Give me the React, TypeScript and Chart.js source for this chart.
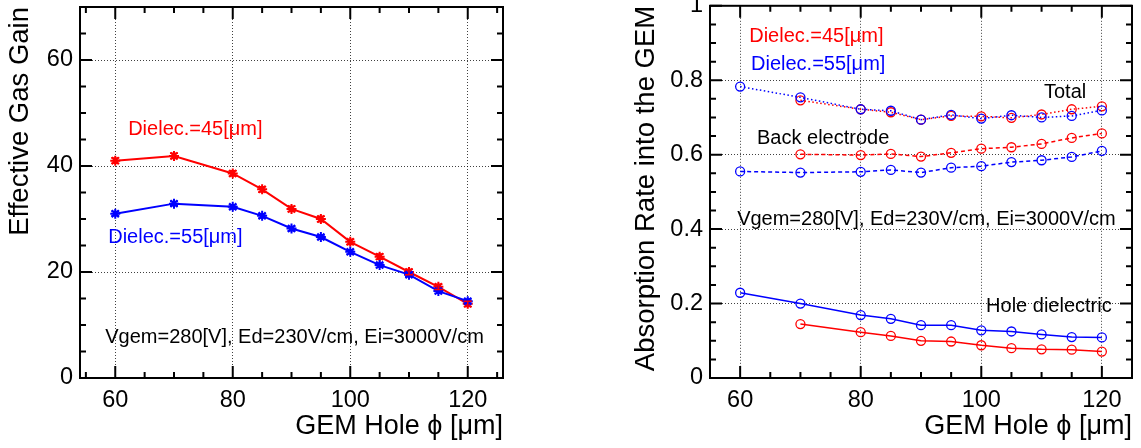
import React, { useEffect, useRef } from 'react';
import { Chart, registerables } from 'chart.js';

Chart.register(...registerables);

const FONT = '"Liberation Sans", Arial, Helvetica, sans-serif';
const RED = '#ff0000';
const BLUE = '#0000ff';

// ---------- Left panel data: effective gas gain ----------
const holeDiameters = [60, 70, 80, 85, 90, 95, 100, 105, 110, 115, 120];
const gain45 = [41.0, 41.9, 38.6, 35.6, 31.9, 30.0, 25.7, 22.9, 20.0, 17.2, 14.0];
const gain55 = [31.0, 32.9, 32.3, 30.6, 28.2, 26.6, 23.8, 21.3, 19.5, 16.4, 14.5];
const gainErr45 = [0.5, 0.5, 0.5, 0.5, 0.5, 0.5, 0.5, 0.5, 0.5, 0.5, 0.5];
const gainErr55 = [0.4, 0.4, 0.4, 0.4, 0.4, 0.4, 0.4, 0.4, 0.4, 0.4, 0.4];
const gainXTicks = [60, 80, 100, 120];
const gainYTicks = [0, 20, 40, 60];

// ---------- Right panel data: absorption rate ----------
const holeDiameters45 = [70, 80, 85, 90, 95, 100, 105, 110, 115, 120];
const holeDiameters55 = [60, 70, 80, 85, 90, 95, 100, 105, 110, 115, 120];
const total45 = [0.746, 0.722, 0.714, 0.694, 0.704, 0.703, 0.699, 0.708, 0.722, 0.730];
const total55 = [0.783, 0.754, 0.722, 0.718, 0.694, 0.707, 0.697, 0.706, 0.700, 0.704, 0.719];
const back45 = [0.601, 0.599, 0.602, 0.595, 0.605, 0.616, 0.620, 0.629, 0.645, 0.657];
const back55 = [0.555, 0.552, 0.554, 0.559, 0.552, 0.565, 0.569, 0.580, 0.585, 0.594, 0.610];
const hole45 = [0.145, 0.123, 0.113, 0.100, 0.098, 0.088, 0.080, 0.077, 0.076, 0.071];
const hole55 = [0.229, 0.200, 0.169, 0.159, 0.142, 0.142, 0.128, 0.125, 0.117, 0.110, 0.109];
const absXTicks = [60, 80, 100, 120];
const absYTicks = [0, 0.2, 0.4, 0.6, 0.8, 1];

const conditionText = 'Vgem=280[V], Ed=230V/cm, Ei=3000V/cm';

const pts = (xs: number[], ys: number[]) => xs.map((x, i) => ({ x, y: ys[i] }));

type Note = { x: number; y: number; text: string; color: string };

const rootFramePlugin = {
  id: 'rootFrame',
  afterDatasetsDraw(chart: any, _args: any, opts: any) {
    const { ctx, chartArea: a, scales } = chart;
    const xs = scales.x;
    const ys = scales.y;
    ctx.save();
    // error bars
    if (opts.errors) {
      chart.data.datasets.forEach((ds: any, di: number) => {
        const errs = opts.errors[di];
        if (!errs) return;
        ctx.strokeStyle = ds.borderColor;
        ctx.lineWidth = 1.5;
        ds.data.forEach((p: any, i: number) => {
          const e = errs[i];
          const px = xs.getPixelForValue(p.x);
          const y1 = ys.getPixelForValue(p.y - e);
          const y2 = ys.getPixelForValue(p.y + e);
          ctx.beginPath();
          ctx.moveTo(px, y1);
          ctx.lineTo(px, y2);
          ctx.moveTo(px - 4, y1);
          ctx.lineTo(px + 4, y1);
          ctx.moveTo(px - 4, y2);
          ctx.lineTo(px + 4, y2);
          ctx.stroke();
        });
      });
    }
    // inner ticks
    ctx.strokeStyle = '#000';
    ctx.lineWidth = 2;
    const isMajor = (v: number, majors: number[]) => majors.some((m) => Math.abs(m - v) < 1e-6);
    const xStart = Math.ceil(xs.min / opts.xMinor - 1e-9) * opts.xMinor;
    for (let v = xStart; v <= xs.max + 1e-9; v += opts.xMinor) {
      const px = xs.getPixelForValue(v);
      const len = isMajor(v, opts.xMajor) ? 12 : 6;
      ctx.beginPath();
      ctx.moveTo(px, a.bottom);
      ctx.lineTo(px, a.bottom - len);
      ctx.moveTo(px, a.top);
      ctx.lineTo(px, a.top + len);
      ctx.stroke();
    }
    const yStart = Math.ceil(ys.min / opts.yMinor - 1e-9) * opts.yMinor;
    for (let k = 0; yStart + k * opts.yMinor <= ys.max + 1e-9; k++) {
      const v = yStart + k * opts.yMinor;
      const py = ys.getPixelForValue(v);
      const len = isMajor(v, opts.yMajor) ? 12 : 6;
      ctx.beginPath();
      ctx.moveTo(a.left, py);
      ctx.lineTo(a.left + len, py);
      ctx.moveTo(a.right, py);
      ctx.lineTo(a.right - len, py);
      ctx.stroke();
    }
    // frame
    ctx.lineWidth = 2;
    ctx.strokeRect(a.left, a.top, a.right - a.left, a.bottom - a.top);
    // notes
    ctx.font = `20px ${FONT}`;
    ctx.textBaseline = 'middle';
    ctx.textAlign = 'left';
    (opts.notes || []).forEach((n: Note) => {
      ctx.fillStyle = n.color;
      ctx.fillText(n.text, xs.getPixelForValue(n.x), ys.getPixelForValue(n.y));
    });
    ctx.restore();
  },
};

function xAxis(min: number, max: number, majors: number[]) {
  return {
    type: 'linear',
    min,
    max,
    afterBuildTicks: (s: any) => {
      s.ticks = majors.map((v) => ({ value: v }));
    },
    afterFit: (s: any) => {
      s.height = 70;
      s.paddingLeft = 0;
      s.paddingRight = 0;
    },
    grid: { color: 'rgba(0,0,0,0.75)', lineWidth: 1, drawTicks: false },
    border: { display: false, dash: [1, 2] },
    ticks: {
      font: { size: 23.5, family: FONT },
      color: '#000',
      padding: 8,
      maxRotation: 0,
      autoSkip: false,
      callback: (v: any) => String(v),
    },
    title: {
      display: true,
      text: 'GEM Hole \u03d5 [\u03bcm]',
      align: 'end',
      color: '#000',
      font: { size: 27, family: FONT },
      padding: { top: 0, bottom: 5 },
    },
  };
}

function yAxis(min: number, max: number, majors: number[], width: number, title: string, titlePad: number) {
  return {
    type: 'linear',
    min,
    max,
    afterBuildTicks: (s: any) => {
      s.ticks = majors.map((v) => ({ value: v }));
    },
    afterFit: (s: any) => {
      s.width = width;
      s.paddingTop = 0;
      s.paddingBottom = 0;
    },
    grid: { color: 'rgba(0,0,0,0.75)', lineWidth: 1, drawTicks: false },
    border: { display: false, dash: [1, 2] },
    ticks: {
      font: { size: 23.5, family: FONT },
      color: '#000',
      padding: 7,
      autoSkip: false,
      callback: (v: any) => String(v),
    },
    title: {
      display: true,
      text: title,
      align: 'end',
      color: '#000',
      font: { size: 27.5, family: FONT },
      padding: { top: titlePad, bottom: 0 },
    },
  };
}

function gainConfig(): any {
  const line = (label: string, data: any[], color: string) => ({
    label,
    data,
    borderColor: color,
    backgroundColor: color,
    borderWidth: 2,
    pointStyle: 'star',
    pointRadius: 5,
    pointBorderWidth: 2,
    pointBorderColor: color,
    fill: false,
    tension: 0,
  });
  return {
    type: 'line',
    data: {
      datasets: [
        line('Dielec.=55[\u03bcm]', pts(holeDiameters, gain55), BLUE),
        line('Dielec.=45[\u03bcm]', pts(holeDiameters, gain45), RED),
      ],
    },
    options: {
      responsive: false,
      animation: false,
      layout: { padding: { left: 0, right: 57, top: 3, bottom: 0 } },
      scales: {
        x: xAxis(54, 126, gainXTicks),
        y: yAxis(0, 70, gainYTicks, 80, 'Effective Gas Gain', 4),
      },
      plugins: {
        legend: { display: false },
        tooltip: { enabled: false },
        rootFrame: {
          xMinor: 5,
          xMajor: gainXTicks,
          yMinor: 5,
          yMajor: gainYTicks,
          errors: [gainErr55, gainErr45],
          notes: [
            { x: 62.2, y: 46.9, text: 'Dielec.=45[\u03bcm]', color: RED },
            { x: 58.8, y: 26.5, text: 'Dielec.=55[\u03bcm]', color: BLUE },
            { x: 58.3, y: 7.65, text: conditionText, color: '#000' },
          ],
        },
      },
    },
    plugins: [rootFramePlugin],
  };
}

function absConfig(): any {
  const line = (label: string, data: any[], color: string, dash: number[]) => ({
    label,
    data,
    borderColor: color,
    backgroundColor: 'rgba(0,0,0,0)',
    borderWidth: 1.5,
    borderDash: dash,
    pointStyle: 'circle',
    pointRadius: 4.5,
    pointBorderWidth: 1.3,
    pointBorderColor: color,
    pointBackgroundColor: 'rgba(0,0,0,0)',
    fill: false,
    tension: 0,
  });
  return {
    type: 'line',
    data: {
      datasets: [
        line('Total 55', pts(holeDiameters55, total55), BLUE, [1.5, 2.5]),
        line('Back 55', pts(holeDiameters55, back55), BLUE, [4, 3]),
        line('Hole 55', pts(holeDiameters55, hole55), BLUE, []),
        line('Total 45', pts(holeDiameters45, total45), RED, [1.5, 2.5]),
        line('Back 45', pts(holeDiameters45, back45), RED, [4, 3]),
        line('Hole 45', pts(holeDiameters45, hole45), RED, []),
      ],
    },
    options: {
      responsive: false,
      animation: false,
      layout: { padding: { left: 0, right: 9, top: 3, bottom: 0 } },
      scales: {
        x: xAxis(55, 125, absXTicks),
        y: yAxis(0, 1, absYTicks, 150, 'Absorption Rate into the GEM', 70),
      },
      plugins: {
        legend: { display: false },
        tooltip: { enabled: false },
        rootFrame: {
          xMinor: 5,
          xMajor: absXTicks,
          yMinor: 0.05,
          yMajor: absYTicks,
          notes: [
            { x: 61.5, y: 0.917, text: 'Dielec.=45[\u03bcm]', color: RED },
            { x: 61.8, y: 0.843, text: 'Dielec.=55[\u03bcm]', color: BLUE },
            { x: 110.4, y: 0.768, text: 'Total', color: '#000' },
            { x: 62.8, y: 0.643, text: 'Back electrode', color: '#000' },
            { x: 59.5, y: 0.427, text: conditionText, color: '#000' },
            { x: 100.8, y: 0.192, text: 'Hole dielectric', color: '#000' },
          ],
        },
      },
    },
    plugins: [rootFramePlugin],
  };
}

function ChartCanvas({ left, width, make }: { left: number; width: number; make: () => any }) {
  const ref = useRef<HTMLCanvasElement | null>(null);
  useEffect(() => {
    if (!ref.current) return;
    const chart = new Chart(ref.current, make());
    return () => chart.destroy();
  }, []);
  return (
    <canvas
      ref={ref}
      width={width}
      height={448}
      style={{ position: 'absolute', left, top: 0, width, height: 448, display: 'block' }}
    />
  );
}

export default function App() {
  return (
    <div
      style={{
        position: 'fixed',
        left: 0,
        top: 0,
        width: 1141,
        height: 448,
        background: '#fff',
        overflow: 'hidden',
      }}
    >
      <ChartCanvas left={0} width={560} make={gainConfig} />
      <ChartCanvas left={560} width={581} make={absConfig} />
    </div>
  );
}
